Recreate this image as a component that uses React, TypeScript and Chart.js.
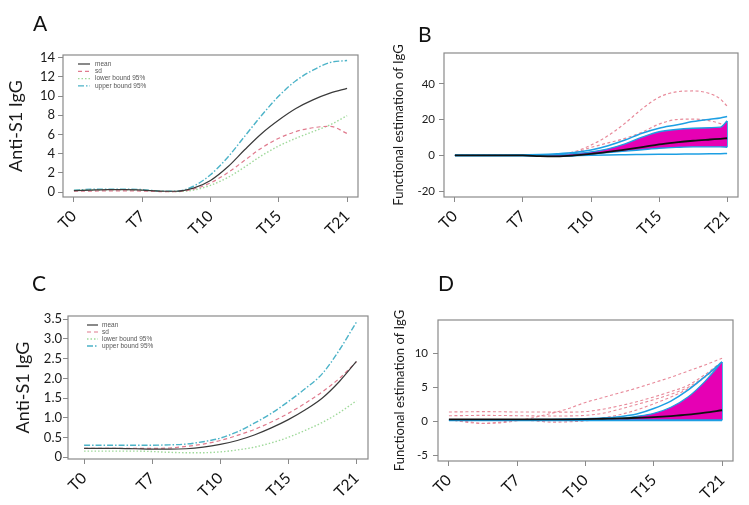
import React, { useEffect, useRef } from 'react';
import { Chart, registerables } from 'chart.js';

Chart.register(...registerables);

// ---------- shared axis data ----------
const timeLabels = ['T0', 'T7', 'T10', 'T15', 'T21'];
const tickPositions = [0, 1, 2, 3, 4];
const samplePositions = [0, 0.25, 0.5, 0.75, 1, 1.25, 1.5, 1.75, 2, 2.25, 2.5, 2.75, 3, 3.25, 3.5, 3.75, 4];
const samplePositionsB = [0, 0.25, 0.5, 0.75, 1, 1.25, 1.5, 1.75, 2, 2.25, 2.5, 2.75, 3, 3.25, 3.5, 3.75, 3.9, 4];

// ---------- panel A ----------
const yTicksA = [0, 2, 4, 6, 8, 10, 12, 14];
const meanA = [0.15, 0.2, 0.25, 0.25, 0.2, 0.1, 0.08, 0.4, 1.2, 2.6, 4.4, 6.1, 7.5, 8.7, 9.6, 10.3, 10.8];
const sdA = [0.1, 0.1, 0.12, 0.12, 0.1, 0.05, 0.05, 0.3, 0.95, 2.0, 3.3, 4.6, 5.6, 6.3, 6.7, 6.85, 6.1];
const lowerA = [0.15, 0.2, 0.22, 0.22, 0.18, 0.08, 0.05, 0.2, 0.7, 1.5, 2.6, 3.8, 4.8, 5.6, 6.3, 7.0, 7.95];
const upperA = [0.2, 0.28, 0.3, 0.3, 0.25, 0.1, 0.08, 0.6, 1.8, 3.6, 5.8, 8.0, 10.0, 11.6, 12.7, 13.5, 13.7];

// ---------- panel B ----------
const yTicksB = [-20, 0, 20, 40];
const medianB = [0, 0, 0, 0, 0, -0.4, -0.5, 0, 0.9, 2.0, 3.2, 4.6, 6.2, 7.3, 8.2, 8.9, 9.3, 9.6];
const envUpperB = [0, 0, 0, 0, 0, 0.1, 0.4, 1.0, 2.0, 3.7, 6.5, 10.2, 13.2, 14.5, 15.2, 15.5, 15.8, 19.3];
const envLowerB = [0, 0, 0, 0, 0, -0.4, -0.5, 0, 0.8, 1.6, 2.4, 3.2, 4.0, 4.5, 4.8, 4.8, 4.8, 4.6];
const whiskUpperB = [0.2, 0.2, 0.3, 0.3, 0.4, 0.5, 0.9, 1.6, 3.0, 5.4, 8.6, 12.4, 15.2, 17.0, 18.9, 20.2, 20.9, 21.7];
const whiskLowerB = [0, 0, 0, 0, 0, -0.3, -0.5, -0.2, 0.1, 0.3, 0.4, 0.5, 0.6, 0.7, 0.8, 0.9, 1.0, 1.1];
const outlierHighB = [0, 0, 0, 0, 0, 0.1, 0.4, 2.0, 5.8, 11, 18, 26, 32.5, 35.5, 36, 34.5, 31.5, 27.5];
const outlierLowB = [0, 0, 0, 0, 0, 0.1, 0.4, 1.5, 4.5, 7, 9.5, 13, 17.5, 20, 20.3, 19.3, 17.8, 16.5];

// ---------- panel C ----------
const yTicksC = [0, 0.5, 1, 1.5, 2, 2.5, 3, 3.5];
const yTickLabelsC = ['0', '0.5', '1.0', '1.5', '2.0', '2.5', '3.0', '3.5'];
const meanC = [0.22, 0.22, 0.22, 0.21, 0.2, 0.2, 0.21, 0.25, 0.32, 0.42, 0.56, 0.74, 0.95, 1.2, 1.5, 1.92, 2.43];
const sdC = [0.22, 0.22, 0.22, 0.22, 0.22, 0.23, 0.27, 0.33, 0.42, 0.55, 0.7, 0.89, 1.11, 1.37, 1.66, 2.0, 2.42];
const lowerC = [0.15, 0.15, 0.15, 0.15, 0.14, 0.12, 0.11, 0.11, 0.13, 0.18, 0.25, 0.36, 0.5, 0.68, 0.88, 1.13, 1.43];
const upperC = [0.3, 0.3, 0.3, 0.3, 0.3, 0.31, 0.33, 0.39, 0.48, 0.64, 0.86, 1.11, 1.41, 1.74, 2.12, 2.72, 3.43];

// ---------- panel D ----------
const yTicksD = [-5, 0, 5, 10];
const medianD = [0.3, 0.3, 0.3, 0.3, 0.3, 0.3, 0.3, 0.32, 0.35, 0.4, 0.45, 0.55, 0.65, 0.8, 1.0, 1.3, 1.65];
const envUpperD = [0.25, 0.25, 0.25, 0.25, 0.25, 0.25, 0.25, 0.25, 0.3, 0.35, 0.45, 0.75, 1.2, 2.1, 3.6, 5.9, 8.75];
const envLowerD = [0.2, 0.2, 0.2, 0.2, 0.2, 0.2, 0.2, 0.2, 0.2, 0.2, 0.2, 0.2, 0.2, 0.2, 0.2, 0.2, 0.2];
const whiskUpperD = [0.25, 0.25, 0.25, 0.25, 0.25, 0.28, 0.3, 0.35, 0.4, 0.5, 0.7, 1.1, 1.9, 3.0, 4.6, 6.6, 8.75];
const whiskLowerD = [0.15, 0.15, 0.15, 0.15, 0.15, 0.15, 0.15, 0.15, 0.15, 0.15, 0.15, 0.15, 0.15, 0.15, 0.15, 0.15, 0.15];
const outlier1D = [0.3, -0.1, -0.3, -0.2, 0.1, 0.6, 1.2, 1.9, 2.8, 3.5, 4.2, 4.9, 5.7, 6.5, 7.4, 8.3, 9.3];
const outlier2D = [1.4, 1.42, 1.45, 1.43, 1.4, 1.4, 1.38, 1.38, 1.45, 1.8, 2.3, 2.9, 3.6, 4.4, 5.3, 6.9, 8.8];
const outlier3D = [0.85, 0.87, 0.9, 0.88, 0.85, 0.82, 0.8, 0.82, 0.9, 1.2, 1.8, 2.5, 3.2, 4.0, 5.0, 6.6, 8.6];
const outlier4D = [0.2, 0.0, -0.25, -0.1, 0.2, 0.1, -0.1, -0.05, 0.1, 0.5, 1.0, 1.7, 2.6, 3.6, 4.8, 6.5, 8.5];

// ---------- styles ----------
const FONT = 'Lato, "Open Sans", sans-serif';
const C_MEAN = '#3a3a3a';
const C_SD = '#e07b8e';
const C_LOWER = '#9fd99a';
const C_UPPER = '#4cb3c8';
const C_MAGENTA = '#e600b4';
const C_CYAN = '#1d9fe3';
const C_OUT = '#e88a9a';
const C_BLACK = '#111111';

const pts = (xs: number[], ys: number[]) => xs.map((x, i) => ({ x, y: ys[i] }));

const framePlugin = {
  id: 'frameBox',
  afterDatasetsDraw(chart: any) {
    const { ctx, chartArea } = chart;
    const { left, top, right, bottom } = chartArea;
    ctx.save();
    ctx.strokeStyle = '#8a8a8a';
    ctx.lineWidth = 1.2;
    ctx.setLineDash([]);
    ctx.strokeRect(left, top, right - left, bottom - top);
    ctx.restore();
  },
};

const insetLegendPlugin = {
  id: 'insetLegend',
  afterDatasetsDraw(chart: any, _args: any, opts: any) {
    if (!opts || !opts.show) return;
    const { ctx, chartArea } = chart;
    const x0 = chartArea.left + opts.dx;
    let y = chartArea.top + opts.dy;
    ctx.save();
    ctx.font = `${opts.fontSize}px "Liberation Sans", Arial, sans-serif`;
    ctx.textBaseline = 'middle';
    ctx.textAlign = 'left';
    chart.data.datasets.forEach((ds: any) => {
      if (!ds.label) return;
      ctx.strokeStyle = ds.borderColor;
      ctx.lineWidth = ds.borderWidth;
      ctx.setLineDash(ds.borderDash || []);
      ctx.beginPath();
      ctx.moveTo(x0, y);
      ctx.lineTo(x0 + opts.sampleLen, y);
      ctx.stroke();
      ctx.setLineDash([]);
      ctx.fillStyle = '#555555';
      ctx.fillText(ds.label, x0 + opts.sampleLen + opts.gap, y);
      y += opts.rowGap;
    });
    ctx.restore();
  },
};

type Spec = {
  key: string;
  canvas: { left: number; top: number; w: number; h: number };
  area: { left: number; top: number; right: number; bottom: number };
  xRange: [number, number];
  yRange: [number, number];
  yTicks: number[];
  yTickLabels?: string[];
  yTickFont: number;
  yTickPad: number;
  yTitle: string;
  yTitleFont: number;
  yTitlePad: number;
  legend?: { dx: number; dy: number; rowGap: number; sampleLen: number; gap: number; fontSize: number };
  datasets: any[];
};

const line = (label: string | undefined, xs: number[], ys: number[], color: string, width: number, dash: number[], extra: any = {}) => ({
  label,
  data: pts(xs, ys),
  borderColor: color,
  backgroundColor: color,
  borderWidth: width,
  borderDash: dash,
  pointRadius: 0,
  fill: false,
  tension: 0.4,
  cubicInterpolationMode: 'monotone',
  ...extra,
});

const meanCurveSets = (xs: number[], mean: number[], sd: number[], lower: number[], upper: number[]) => [
  line('mean', xs, mean, C_MEAN, 1.2, []),
  line('sd', xs, sd, C_SD, 1.2, [4, 3]),
  line('lower bound 95%', xs, lower, C_LOWER, 1.4, [1.5, 2]),
  line('upper bound 95%', xs, upper, C_UPPER, 1.4, [6, 2, 1.5, 2]),
];

const specs: Spec[] = [
  {
    key: 'A',
    canvas: { left: 0, top: 0, w: 375, h: 250 },
    area: { left: 63, top: 55, right: 358, bottom: 197 },
    xRange: [-0.16, 4.16],
    yRange: [-0.52, 14.28],
    yTicks: yTicksA,
    yTickFont: 13,
    yTickPad: 3,
    yTitle: 'Anti-S1 IgG',
    yTitleFont: 18,
    yTitlePad: 5,
    legend: { dx: 15, dy: 9, rowGap: 7.3, sampleLen: 12, gap: 5, fontSize: 6.5 },
    datasets: meanCurveSets(samplePositions, meanA, sdA, lowerA, upperA),
  },
  {
    key: 'B',
    canvas: { left: 375, top: 0, w: 374, h: 250 },
    area: { left: 69, top: 53, right: 363, bottom: 197 },
    xRange: [-0.16, 4.16],
    yRange: [-23.2, 57.2],
    yTicks: yTicksB,
    yTickFont: 11.5,
    yTickPad: 4,
    yTitle: 'Functional estimation of IgG',
    yTitleFont: 13,
    yTitlePad: 16,
    datasets: [
      line(undefined, samplePositionsB, medianB, C_BLACK, 1.8, []),
      line(undefined, samplePositionsB, envLowerB, C_CYAN, 1.4, []),
      line(undefined, samplePositionsB, envUpperB, C_CYAN, 1.4, [], { fill: 1, backgroundColor: C_MAGENTA }),
      line(undefined, [4, 4], [envLowerB[envLowerB.length - 1], envUpperB[envUpperB.length - 1]], C_CYAN, 1.4, [], { tension: 0, cubicInterpolationMode: 'default' }),
      line(undefined, samplePositionsB, whiskUpperB, C_CYAN, 1.5, []),
      line(undefined, samplePositionsB, whiskLowerB, C_CYAN, 1.5, []),
      line(undefined, samplePositionsB, outlierHighB, C_OUT, 1.2, [3, 2.5]),
      line(undefined, samplePositionsB, outlierLowB, C_OUT, 1.2, [3, 2.5]),
    ],
  },
  {
    key: 'C',
    canvas: { left: 0, top: 250, w: 375, h: 255 },
    area: { left: 68, top: 66, right: 368, bottom: 209 },
    xRange: [-0.236, 4.17],
    yRange: [-0.05, 3.584],
    yTicks: yTicksC,
    yTickLabels: yTickLabelsC,
    yTickFont: 13,
    yTickPad: 1,
    yTitle: 'Anti-S1 IgG',
    yTitleFont: 18,
    yTitlePad: 12,
    legend: { dx: 19, dy: 9, rowGap: 7, sampleLen: 11, gap: 4, fontSize: 6.5 },
    datasets: meanCurveSets(samplePositions, meanC, sdC, lowerC, upperC),
  },
  {
    key: 'D',
    canvas: { left: 375, top: 250, w: 374, h: 255 },
    area: { left: 63, top: 70, right: 358, bottom: 211 },
    xRange: [-0.16, 4.16],
    yRange: [-5.8, 14.9],
    yTicks: yTicksD,
    yTickFont: 11.5,
    yTickPad: 5,
    yTitle: 'Functional estimation of IgG',
    yTitleFont: 13,
    yTitlePad: 17,
    datasets: [
      line(undefined, samplePositions, medianD, C_BLACK, 1.8, []),
      line(undefined, samplePositions, envLowerD, C_CYAN, 1.6, []),
      line(undefined, samplePositions, envUpperD, C_CYAN, 1.2, [], { fill: 1, backgroundColor: C_MAGENTA }),
      line(undefined, [4, 4], [envLowerD[envLowerD.length - 1], envUpperD[envUpperD.length - 1]], C_CYAN, 1.4, [], { tension: 0, cubicInterpolationMode: 'default' }),
      line(undefined, samplePositions, whiskUpperD, C_CYAN, 1.5, []),
      line(undefined, samplePositions, whiskLowerD, C_CYAN, 1.6, []),
      line(undefined, samplePositions, outlier1D, C_OUT, 1.1, [3, 2.5]),
      line(undefined, samplePositions, outlier2D, C_OUT, 1.1, [3, 2.5]),
      line(undefined, samplePositions, outlier3D, C_OUT, 1.1, [3, 2.5]),
      line(undefined, samplePositions, outlier4D, C_OUT, 1.1, [3, 2.5]),
    ],
  },
];

function buildConfig(spec: Spec): any {
  const { canvas, area } = spec;
  const yWidth = area.left;
  const xHeight = canvas.h - area.bottom;
  return {
    type: 'line',
    data: { datasets: spec.datasets },
    plugins: [framePlugin, insetLegendPlugin],
    options: {
      animation: false,
      responsive: false,
      maintainAspectRatio: false,
      events: [],
      layout: { padding: { left: 0, top: area.top, right: canvas.w - area.right, bottom: 0 } },
      plugins: {
        legend: { display: false },
        tooltip: { enabled: false },
        insetLegend: spec.legend ? { show: true, ...spec.legend } : { show: false },
      },
      scales: {
        x: {
          type: 'linear',
          min: spec.xRange[0],
          max: spec.xRange[1],
          afterBuildTicks: (s: any) => {
            s.ticks = tickPositions.map((v) => ({ value: v }));
          },
          afterFit: (s: any) => {
            s.height = xHeight;
          },
          ticks: {
            autoSkip: false,
            minRotation: 45,
            maxRotation: 45,
            padding: 5,
            color: '#111111',
            font: { family: FONT, size: 15.5 },
            callback: (v: number) => {
              const i = tickPositions.indexOf(v);
              return i >= 0 ? timeLabels[i] : '';
            },
          },
          grid: { drawOnChartArea: false, drawTicks: true, tickLength: 5, color: '#8a8a8a', lineWidth: 1 },
          border: { display: false },
        },
        y: {
          type: 'linear',
          min: spec.yRange[0],
          max: spec.yRange[1],
          afterBuildTicks: (s: any) => {
            s.ticks = spec.yTicks.map((v) => ({ value: v }));
          },
          afterFit: (s: any) => {
            s.width = yWidth;
          },
          ticks: {
            autoSkip: false,
            padding: spec.yTickPad,
            color: '#1a1a1a',
            font: { family: FONT, size: spec.yTickFont },
            callback: (v: number) => {
              const i = spec.yTicks.indexOf(v);
              if (i < 0) return '';
              return spec.yTickLabels ? spec.yTickLabels[i] : String(v);
            },
          },
          grid: { drawOnChartArea: false, drawTicks: true, tickLength: 5, color: '#8a8a8a', lineWidth: 1 },
          border: { display: false },
          title: {
            display: true,
            text: spec.yTitle,
            color: '#1a1a1a',
            font: { family: FONT, size: spec.yTitleFont },
            padding: { top: spec.yTitlePad, bottom: 0 },
          },
        },
      },
    },
  };
}

function Panel({ spec }: { spec: Spec }) {
  const ref = useRef<HTMLCanvasElement | null>(null);
  useEffect(() => {
    if (!ref.current) return;
    const chart = new Chart(ref.current, buildConfig(spec));
    return () => chart.destroy();
  }, [spec]);
  const { canvas } = spec;
  return (
    <canvas
      ref={ref}
      width={canvas.w}
      height={canvas.h}
      style={{ position: 'absolute', left: canvas.left, top: canvas.top, width: canvas.w, height: canvas.h }}
    />
  );
}

const panelLetters = [
  { text: 'A', left: 33, top: 12 },
  { text: 'B', left: 418, top: 23 },
  { text: 'C', left: 32, top: 272 },
  { text: 'D', left: 438, top: 272 },
];

export default function App() {
  return (
    <div style={{ position: 'absolute', left: 0, top: 0, width: 749, height: 505, background: '#ffffff', overflow: 'hidden' }}>
      {specs.map((s) => (
        <Panel key={s.key} spec={s} />
      ))}
      {panelLetters.map((l) => (
        <div
          key={l.text}
          style={{ position: 'absolute', left: l.left, top: l.top, fontFamily: FONT, fontSize: 21, lineHeight: '22px', color: '#111' }}
        >
          {l.text}
        </div>
      ))}
    </div>
  );
}
